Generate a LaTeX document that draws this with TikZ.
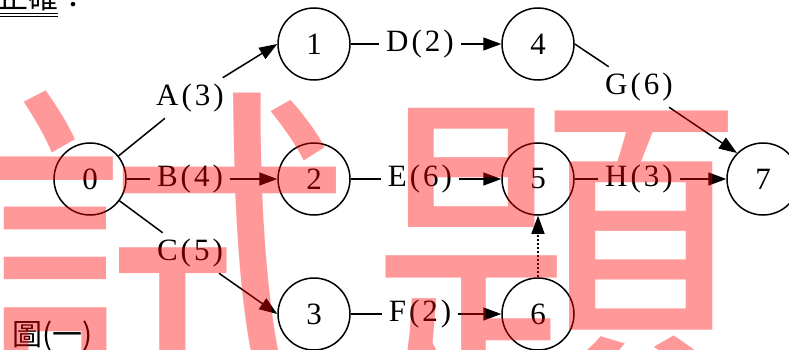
\documentclass[tikz,border=0pt]{standalone}
\usepackage{fontspec}
\usepackage{pdfrender}
\setmainfont{Liberation Serif}
\newfontfamily\cjk{Noto Sans CJK TC}
\usetikzlibrary{arrows.meta,calc}
\newcommand\actlab[2]{#1\kern3pt(\kern3pt#2\kern3pt)}

\begin{document}
\begin{tikzpicture}[x=1pt,y=-1pt,
  event/.style={draw,circle,line width=1.5pt,minimum size=72pt,inner sep=0pt,font=\fontsize{31}{32}\selectfont},
  act/.style={inner xsep=7pt,inner ysep=6pt,font=\fontsize{31}{32}\selectfont},
  arc/.style={line width=1.5pt,-{Triangle[length=18pt,width=13pt]}},
  wm/.style={text=red,inner sep=0pt,anchor=base west,font=\cjk\fontsize{380}{380}\selectfont}]
\clip (0,0) rectangle (789,350);
\fill[white] (0,0) rectangle (789,350);
% text of the page round the figure
\node[anchor=base west,inner sep=0pt,font=\cjk\fontsize{30}{30}\selectfont] (hd) at (-2,9) {正確：};
\draw[line width=1pt] (0,13.5) -- (58,13.5) (0,16.5) -- (58,16.5);
\node[anchor=base west,inner sep=0pt,font=\cjk\fontsize{30}{30}\selectfont] (cap) at (12,345) {圖(一)};
% events
\foreach \n/\x/\y in {0/90/179, 1/314/44, 2/314/179, 3/314/314, 4/538/44, 5/538/179, 6/538/314, 7/763/179}
    \node[event] (n\n) at (\x,\y) {\n};
% activities
\foreach \a/\t/\x/\y in {A/3/190/98, B/4/190/179, C/5/190/253, D/2/420/44, E/6/420/179, F/2/420/314, G/6/639/87, H/3/639/179}
    \node[act] (l\a) at (\x,\y) {\actlab{\a}{\t}};
\foreach \p/\a/\q in {n0/lA/n1.west, n0/lB/n2, n0/lC/n3.west, n1/lD/n4, n2/lE/n5, n3/lF/n6, n4.east/lG/n7.north west, n5/lH/n7}{
    \draw[line width=1.5pt] (\p) -- (\a);
    \draw[arc] (\a) -- (\q);
   }
% dummy
\draw[arc,dash pattern=on 2pt off 2pt] (n6) -- (n5);
% watermark
\begin{scope}[transparency group,opacity=0.4]
\node[wm] (wm1) at (-30,411) {\textpdfrender{TextRenderingMode=FillStroke,LineWidth=8pt,StrokeColor=red}{試}};
\node[wm] (wm2) at (368,411) {\textpdfrender{TextRenderingMode=FillStroke,LineWidth=8pt,StrokeColor=red}{題}};
\end{scope}
\end{tikzpicture}
\end{document}
